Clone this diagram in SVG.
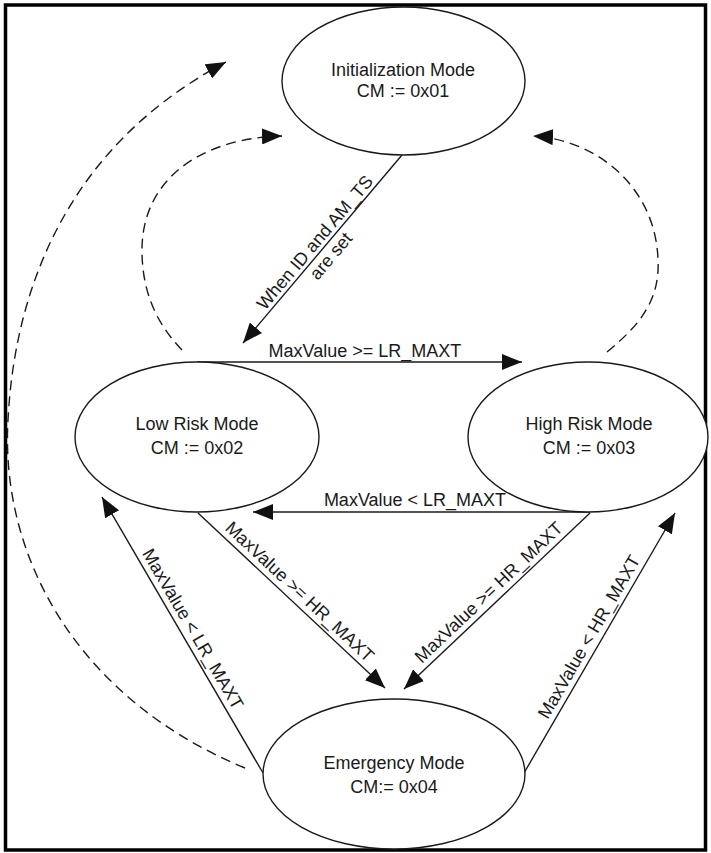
<svg xmlns="http://www.w3.org/2000/svg" width="711" height="853" viewBox="0 0 711 853">
<defs>
<marker id="arrow" markerUnits="userSpaceOnUse" markerWidth="20" markerHeight="16" refX="20" refY="8" orient="auto">
<path d="M0,0 L20,8 L0,16 z" fill="#111"/>
</marker>
<style>
.node ellipse{fill:#fff;stroke:#1a1a1a;stroke-width:1.4}
.node text,.lbl{font-family:"Liberation Sans",Arial,sans-serif;font-size:18px;fill:#1a1a1a;text-anchor:middle}
.edge{fill:none;stroke:#1a1a1a;stroke-width:1.4;marker-end:url(#arrow)}
.dash{stroke-dasharray:10 6}
</style>
</defs>
<rect x="0" y="0" width="711" height="853" fill="#fff"/>
<rect x="5.5" y="5" width="700" height="845" fill="none" stroke="#000" stroke-width="3.5"/>

<g id="connectors">
<path class="edge" d="M402,155 L243,343"/>
<path class="edge" d="M197,362 L522,362"/>
<path class="edge" d="M590,512 L253,512"/>
<path class="edge" d="M198,513 L385,688"/>
<path class="edge" d="M590,513 L404,689"/>
<path class="edge" d="M263,773 L102,497"/>
<path class="edge" d="M524,773 L675,513"/>
<path class="edge dash" d="M182,350 C155,322 142,290 142,250 C142,180 200,138 282,136"/>
<path class="edge dash" d="M607,352 C640,325 660,300 658,260 C656,190 600,140 533,136"/>
<path class="edge dash" d="M245,768 C80,700 0,560 8,420 C14,300 60,150 226,62"/>
<g transform="translate(322.5,249) rotate(-49.8)">
<text class="lbl" x="0" y="-4">When ID and AM_TS</text>
<text class="lbl" x="0" y="17">are set</text>
</g>
<text class="lbl" x="365" y="357">MaxValue &gt;= LR_MAXT</text>
<text class="lbl" x="415" y="506">MaxValue &lt; LR_MAXT</text>
<text class="lbl" transform="translate(291.5,600.5) rotate(43.1)" x="0" y="-6">MaxValue &gt;= HR_MAXT</text>
<text class="lbl" transform="translate(497,601) rotate(-43.4)" x="0" y="-6">MaxValue &gt;= HR_MAXT</text>
<text class="lbl" transform="translate(182.5,635) rotate(59.7)" x="0" y="-6">MaxValue &lt; LR_MAXT</text>
<text class="lbl" transform="translate(599.5,643) rotate(-59.9)" x="0" y="-6">MaxValue &lt; HR_MAXT</text>
</g>

<g id="init" class="node">
<ellipse cx="403.5" cy="81" rx="121.5" ry="74"/>
<text x="403" y="76">Initialization Mode</text>
<text x="403" y="97">CM := 0x01</text>
</g>
<g id="lowrisk" class="node">
<ellipse cx="197" cy="437" rx="122" ry="75"/>
<text x="197" y="430">Low Risk Mode</text>
<text x="197" y="454">CM := 0x02</text>
</g>
<g id="highrisk" class="node">
<ellipse cx="588" cy="437" rx="120" ry="75"/>
<text x="589" y="430">High Risk Mode</text>
<text x="589" y="454">CM := 0x03</text>
</g>
<g id="emergency" class="node">
<ellipse cx="394" cy="774" rx="131" ry="75"/>
<text x="394" y="769">Emergency Mode</text>
<text x="394" y="793">CM:= 0x04</text>
</g>
</svg>
